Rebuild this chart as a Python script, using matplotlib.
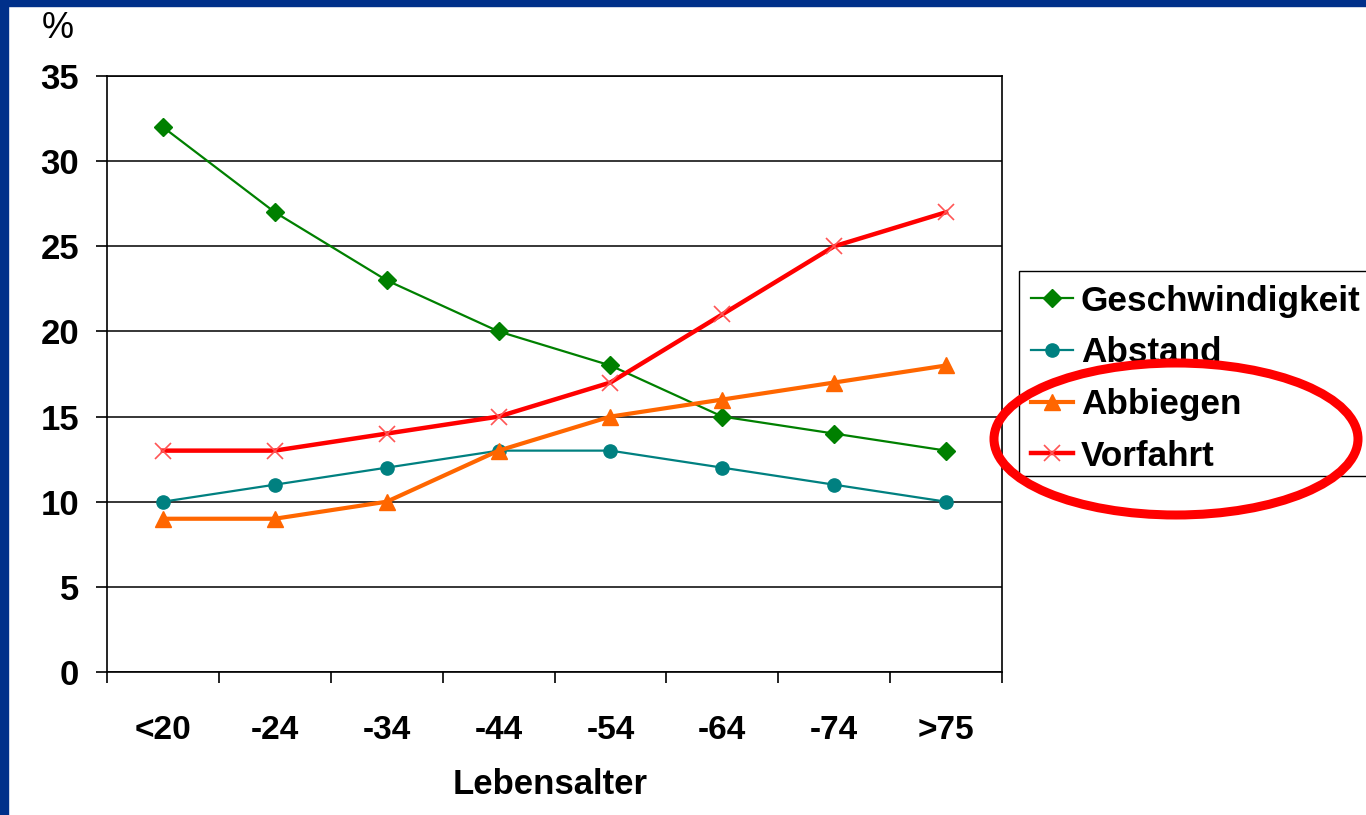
import matplotlib
matplotlib.use("Agg")
import matplotlib.pyplot as plt
from matplotlib.patches import Ellipse, Rectangle
import numpy as np

# Age groups and accident-cause shares (%)
age_groups = ["<20", "-24", "-34", "-44", "-54", "-64", "-74", ">75"]
geschwindigkeit = [32, 27, 23, 20, 18, 15, 14, 13]
abstand = [10, 11, 12, 13, 13, 12, 11, 10]
abbiegen = [9, 9, 10, 13, 15, 16, 17, 18]
vorfahrt = [13, 13, 14, 15, 17, 21, 25, 27]
y_ticks = [0, 5, 10, 15, 20, 25, 30, 35]

W, H = 1366, 815
fig = plt.figure(figsize=(W / 100, H / 100), dpi=100)
fig.patch.set_facecolor("white")
base = "Liberation Sans"

# dark blue slide frame along top and left
fig.add_artist(Rectangle((0, H - 6), W, 6, transform=None, color="#00308A", zorder=0))
fig.add_artist(Rectangle((0, 0), 8, H, transform=None, color="#00308A", zorder=0))

L, R, T, B = 107, 1002, 76, 672
ax = fig.add_axes([L / W, 1 - B / H, (R - L) / W, (B - T) / H])
x = np.arange(len(age_groups))

ax.plot(x, geschwindigkeit, color="#008000", lw=1.6, marker="D", ms=9,
        label="Geschwindigkeit", zorder=3)
ax.plot(x, abstand, color="#008080", lw=1.6, marker="o", ms=9.5,
        label="Abstand", zorder=3)
ax.plot(x, abbiegen, color="#FF6600", lw=3.0, marker="^", ms=12,
        label="Abbiegen", zorder=4)
ax.plot(x, vorfahrt, color="#FF0000", lw=3.2, marker="x", ms=12, mew=1.2,
        mec="#FF5555", label="Vorfahrt", zorder=5)

ax.set_xlim(-0.5, len(age_groups) - 0.5)
ax.set_ylim(0, 35)
ax.set_yticks(y_ticks)
ax.set_yticklabels([str(v) for v in y_ticks], fontfamily=base,
                   fontweight="bold", fontsize=25)
ax.yaxis.grid(True, color="black", lw=1.1, zorder=1)
ax.set_axisbelow(True)

# boundary ticks between categories, labels centred on categories
ax.set_xticks(np.arange(-0.5, len(age_groups), 1))
ax.set_xticklabels([])
ax.set_xticks(x, minor=True)
ax.set_xticklabels(age_groups, minor=True, fontfamily=base,
                   fontweight="bold", fontsize=24)
ax.tick_params(axis="x", which="major", direction="out", length=8, width=1.2)
ax.tick_params(axis="x", which="minor", length=0, pad=31)
ax.tick_params(axis="y", direction="out", length=8, width=1.2, pad=12)

for s in ax.spines.values():
    s.set_color("black")
    s.set_linewidth(1.2)

fig.text(550 / W, 1 - 784 / H, "Lebensalter", ha="center", va="center",
         fontfamily=base, fontweight="bold", fontsize=25)
fig.text(58 / W, 1 - 28 / H, "%", ha="center", va="center",
         fontfamily=base, fontsize=26)

# legend box, running off the right edge of the slide
fig.add_artist(Rectangle((1019, H - 476), 360, 205, transform=None, fill=False,
                         edgecolor="black", lw=1.0, zorder=5))
leg = fig.legend(loc="upper left", bbox_to_anchor=(1022 / W, 1 - 276 / H),
                 bbox_transform=fig.transFigure, frameon=False,
                 borderaxespad=0, borderpad=0.25,
                 handlelength=1.2, handletextpad=0.22, labelspacing=0.53,
                 prop={"family": base, "weight": "bold", "size": 25.3})
leg.set_zorder(6)

# highlight ring around the two lower legend entries
fig.add_artist(Ellipse((1176, H - 439), 364, 152, transform=None, fill=False,
                       edgecolor="#FF0000", lw=6.5, zorder=10))

fig.savefig("out.png", dpi=100, facecolor="white")
